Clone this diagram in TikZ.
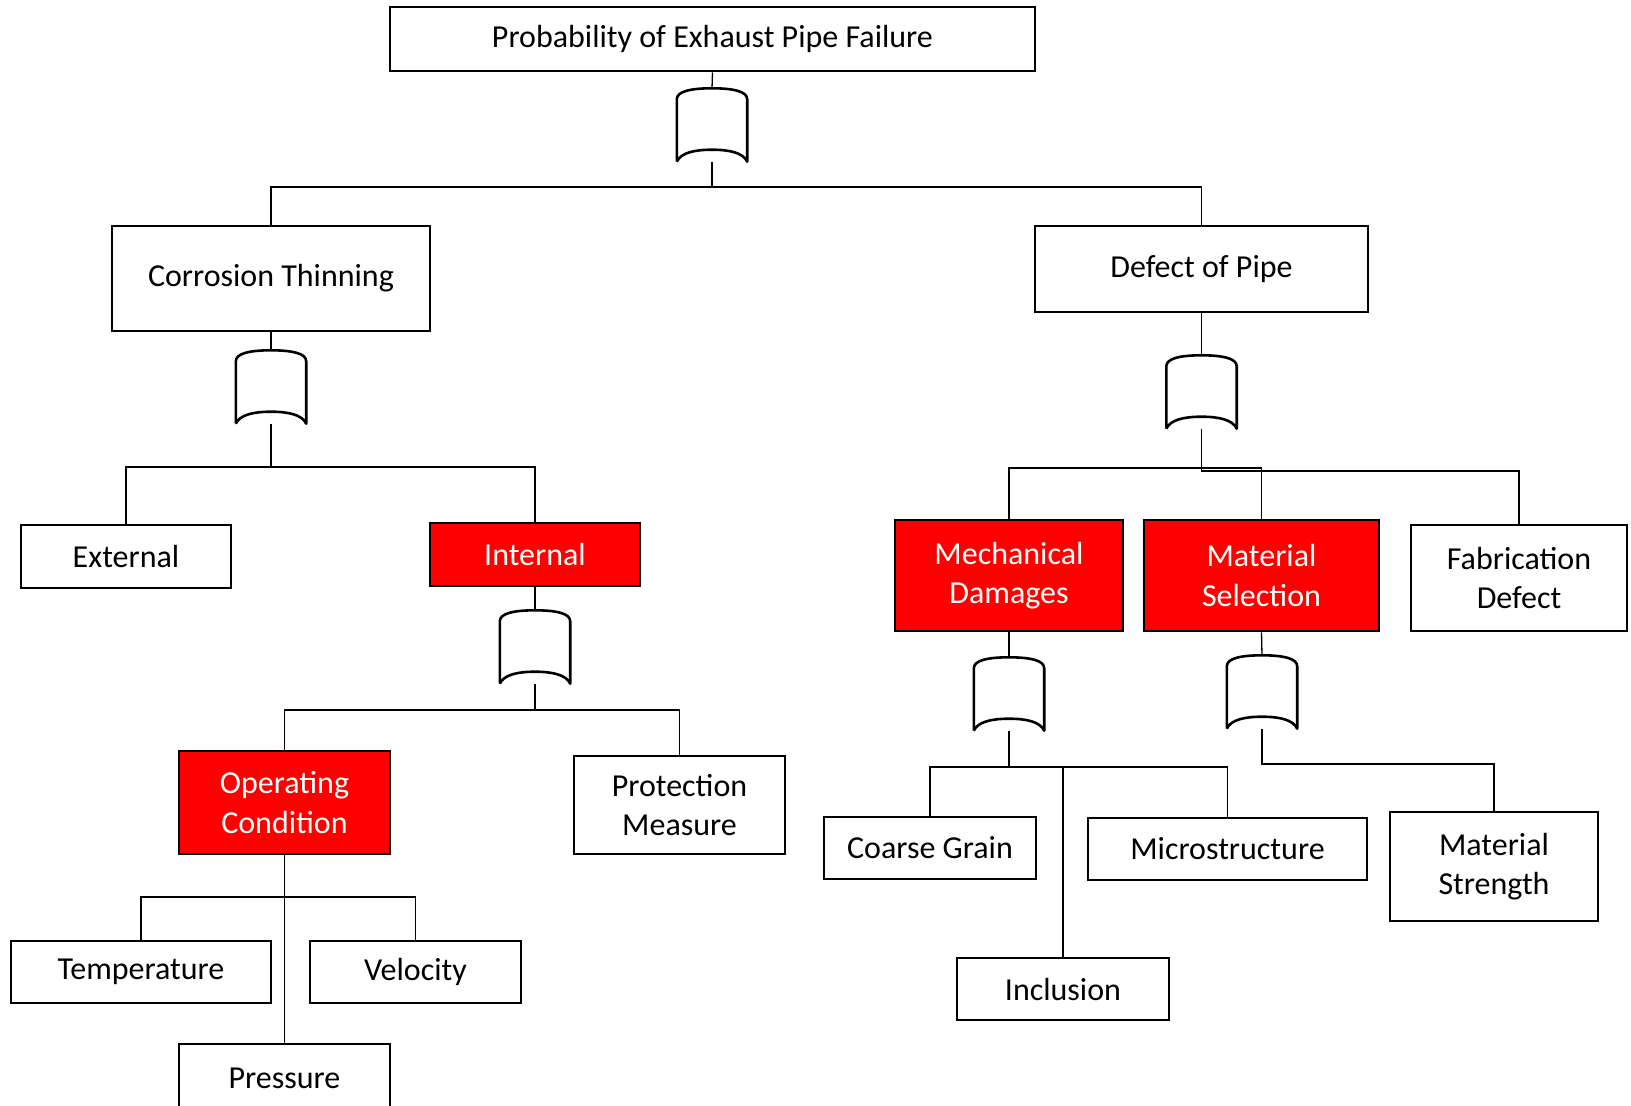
\documentclass[tikz,border=0pt]{standalone}
\usepackage{fontspec}
\setmainfont{Carlito}
\tikzset{
  evbox/.style={rectangle,draw,line width=2.8pt,fill=white,inner sep=0pt,align=center,
    font=\fontsize{32}{39.5}\selectfont},
  hotbox/.style={evbox,fill=red,text=white},
  gate/.style={rectangle,minimum width=70pt,minimum height=73pt,inner sep=0pt},
  link/.style={line width=1.3pt}
}
\newcommand{\orgate}[1]{%
  \draw[line width=2.6pt,fill=white,line join=round]
    ($(#1.south west)$) -- ($(#1.north west)+(0,-11pt)$)
    .. controls ($(#1.north west)+(0,-3pt)$) and ($(#1.north west)+(14pt,0)$) .. (#1.north)
    .. controls ($(#1.north east)+(-14pt,0)$) and ($(#1.north east)+(0,-3pt)$) .. ($(#1.north east)+(0,-11pt)$)
    -- (#1.south east)
    .. controls ($(#1.south east)+(-4pt,9pt)$) and ($(#1.south east)+(-18pt,12pt)$) .. ($(#1.south)+(0,12pt)$)
    .. controls ($(#1.south west)+(18pt,12pt)$) and ($(#1.south west)+(4pt,9pt)$) .. (#1.south west);}
\usetikzlibrary{calc}
\begin{document}
\begin{tikzpicture}[x=1pt,y=-1pt]
      \useasboundingbox (0,0) rectangle (1631,1106);
      \fill[white] (0,0) rectangle (1631,1106);

      \begin{scope}[every node/.style={evbox}]
        \node[minimum width=645pt,minimum height=64pt] (top) at (712.5,39) {Probability of Exhaust Pipe Failure};
        \node[minimum width=318pt,minimum height=105pt] (ct)  at (271,278.5) {Corrosion Thinning};
        \node[minimum width=333pt,minimum height=86pt]  (dp)  at (1201.5,269) {Defect of Pipe};
        \node[minimum width=210pt,minimum height=63pt]  (ex)  at (126,556.5) {External};
        \node[minimum width=211pt,minimum height=98pt]  (pm)  at (679.5,805) {Protection\\Measure};
        \node[minimum width=260pt,minimum height=62pt]  (tm)  at (141,972) {Temperature};
        \node[minimum width=211pt,minimum height=62pt]  (ve)  at (415.5,972) {Velocity};
        \node[minimum width=211pt,minimum height=68pt]  (pr)  at (284.5,1078) {Pressure};
        \node[minimum width=216pt,minimum height=106pt] (fd)  at (1519,578) {Fabrication\\Defect};
        \node[minimum width=212pt,minimum height=62pt]  (cg)  at (930,848) {Coarse Grain};
        \node[minimum width=279pt,minimum height=62pt]  (mi)  at (1227.5,849) {Microstructure};
        \node[minimum width=212pt,minimum height=62pt]  (inc) at (1063,989) {Inclusion};
        \node[minimum width=208pt,minimum height=109pt] (mst) at (1494,866.5) {Material\\Strength};
      \end{scope}

      \begin{scope}[every node/.style={hotbox}]
        \node[minimum width=210pt,minimum height=63pt]  (in) at (535,554.5) {Internal};
        \node[minimum width=211pt,minimum height=103pt] (oc) at (284.5,802.5) {Operating\\Condition};
        \node[minimum width=228pt,minimum height=111pt] (md) at (1009,575.5) {Mechanical\\Damages};
        \node[minimum width=235pt,minimum height=111pt] (ms) at (1261.5,575.5) {Material\\Selection};
      \end{scope}

      \begin{scope}[every node/.style={gate}]
        \node (g1) at (712,125) {};
        \node (g2) at (271,387) {};
        \node (g3) at (1201.5,392) {};
        \node (g4) at (535,647) {};
        \node (g5) at (1009,694) {};
        \node (g6) at (1262,692) {};
      \end{scope}

      \coordinate (b1) at (712,187);
      \coordinate (b2) at (271,467);
      \coordinate (b3) at (1201.5,468);
      \coordinate (b4) at (535,710);
      \coordinate (b5) at (1009,767);
      \coordinate (b6) at (1262,764);
      \coordinate (b7) at (284.5,897);

      \begin{scope}[every path/.style={link}]
        \draw (top.south) -- (g1.north);
        \draw (g1.south) -- (b1) -| (ct.north);
        \draw (b1) -| (dp.north);
        \draw (ct.south) -- (g2.north);
        \draw (dp.south) -- (g3.north);
        \draw (g2.south) -- (b2) -| (ex.north);
        \draw (b2) -| (in.north);
        \draw (g3.south) -- (b3) -| (md.north);
        \draw (b3) -| (ms.north);
        \draw (b3) -- ++(0,3) -| (fd.north);
        \draw (in.south) -- (g4.north);
        \draw (g4.south) -- (b4) -| (oc.north);
        \draw (b4) -| (pm.north);
        \draw (md.south) -- (g5.north);
        \draw (ms.south) -- (g6.north);
        \draw (g5.south) -- (b5) -| (cg.north);
        \draw (b5) -| (mi.north);
        \draw (b5) -| (inc.north);
        \draw (g6.south) -- (b6) -| (mst.north);
        \draw (oc.south) -- (pr.north);
        \draw (b7) -| (tm.north);
        \draw (b7) -| (ve.north);
      \end{scope}

      \foreach \g in {g1,g2,g3,g4,g5,g6} {\orgate{\g}}

    \end{tikzpicture}
\end{document}
